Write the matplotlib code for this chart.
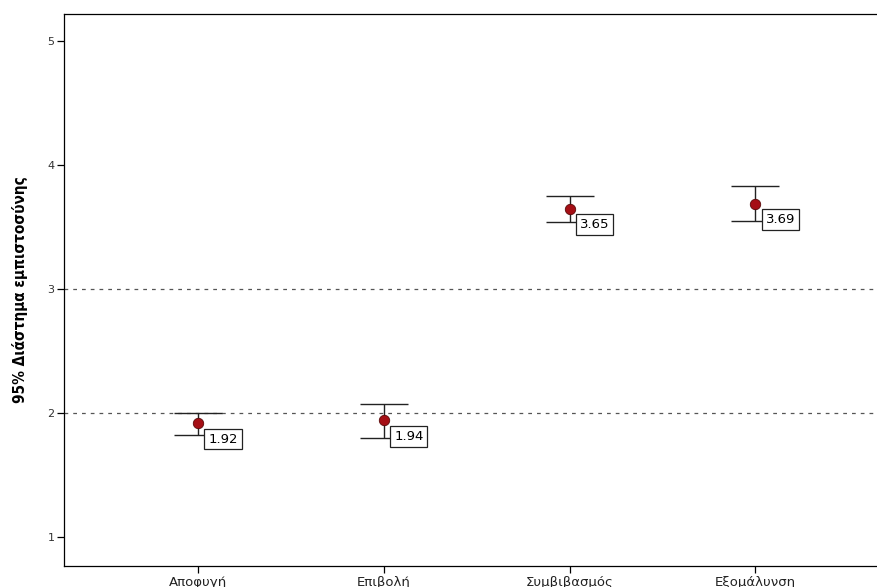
import numpy as np
import matplotlib.pyplot as plt

categories = ["Αποφυγή", "Επιβολή", "Συμβιβασμός", "Εξομάλυνση"]
means = [1.92, 1.94, 3.65, 3.69]
ci_lower = [1.82, 1.80, 3.54, 3.55]
ci_upper = [2.00, 2.07, 3.75, 3.83]
ref_lines = [2, 3]
yticks = [1, 2, 3, 4, 5]

fig = plt.figure(figsize=(8.78, 5.87), dpi=100)
ax = fig.add_axes([0.073, 0.036, 0.927, 0.94])

x = np.arange(len(categories))
means_arr = np.array(means)
yerr = np.vstack([means_arr - np.array(ci_lower), np.array(ci_upper) - means_arr])

for r in ref_lines:
    ax.axhline(r, color="#555555", linestyle=(0, (3, 4)), linewidth=0.9, zorder=1)

ax.errorbar(x, means_arr, yerr=yerr, fmt="none", ecolor="#222222",
            elinewidth=1.0, capsize=17, capthick=1.0, zorder=2)
ax.plot(x, means_arr, "o", color="#a50f15", markeredgecolor="#5a0a0a",
        markersize=7.5, markeredgewidth=0.6, zorder=3)

for xi, m in zip(x, means):
    ax.annotate(f"{m:.2f}", (xi, m), xytext=(7.5, -7), textcoords="offset points",
                ha="left", va="top", fontsize=9.5, zorder=4,
                bbox=dict(boxstyle="square,pad=0.3", fc="white", ec="#222222", lw=0.9))

ax.set_xlim(-0.72, 3.66)
ax.set_ylim(0.765, 5.22)
ax.set_xticks(x)
ax.set_xticklabels(categories, fontsize=9.5, color="#222222")
ax.set_yticks(yticks)
ax.set_yticklabels([str(t) for t in yticks], fontsize=8, color="#333333")
ax.tick_params(direction="out", length=5, width=0.9, pad=2)
ax.set_ylabel("95% Διάστημα εμπιστοσύνης", fontsize=11, fontweight="bold",
              fontstretch="condensed", labelpad=14)

for side in ["left", "bottom", "top"]:
    ax.spines[side].set_linewidth(0.9)
ax.spines["right"].set_visible(False)

fig.savefig("out.png", dpi=100)
